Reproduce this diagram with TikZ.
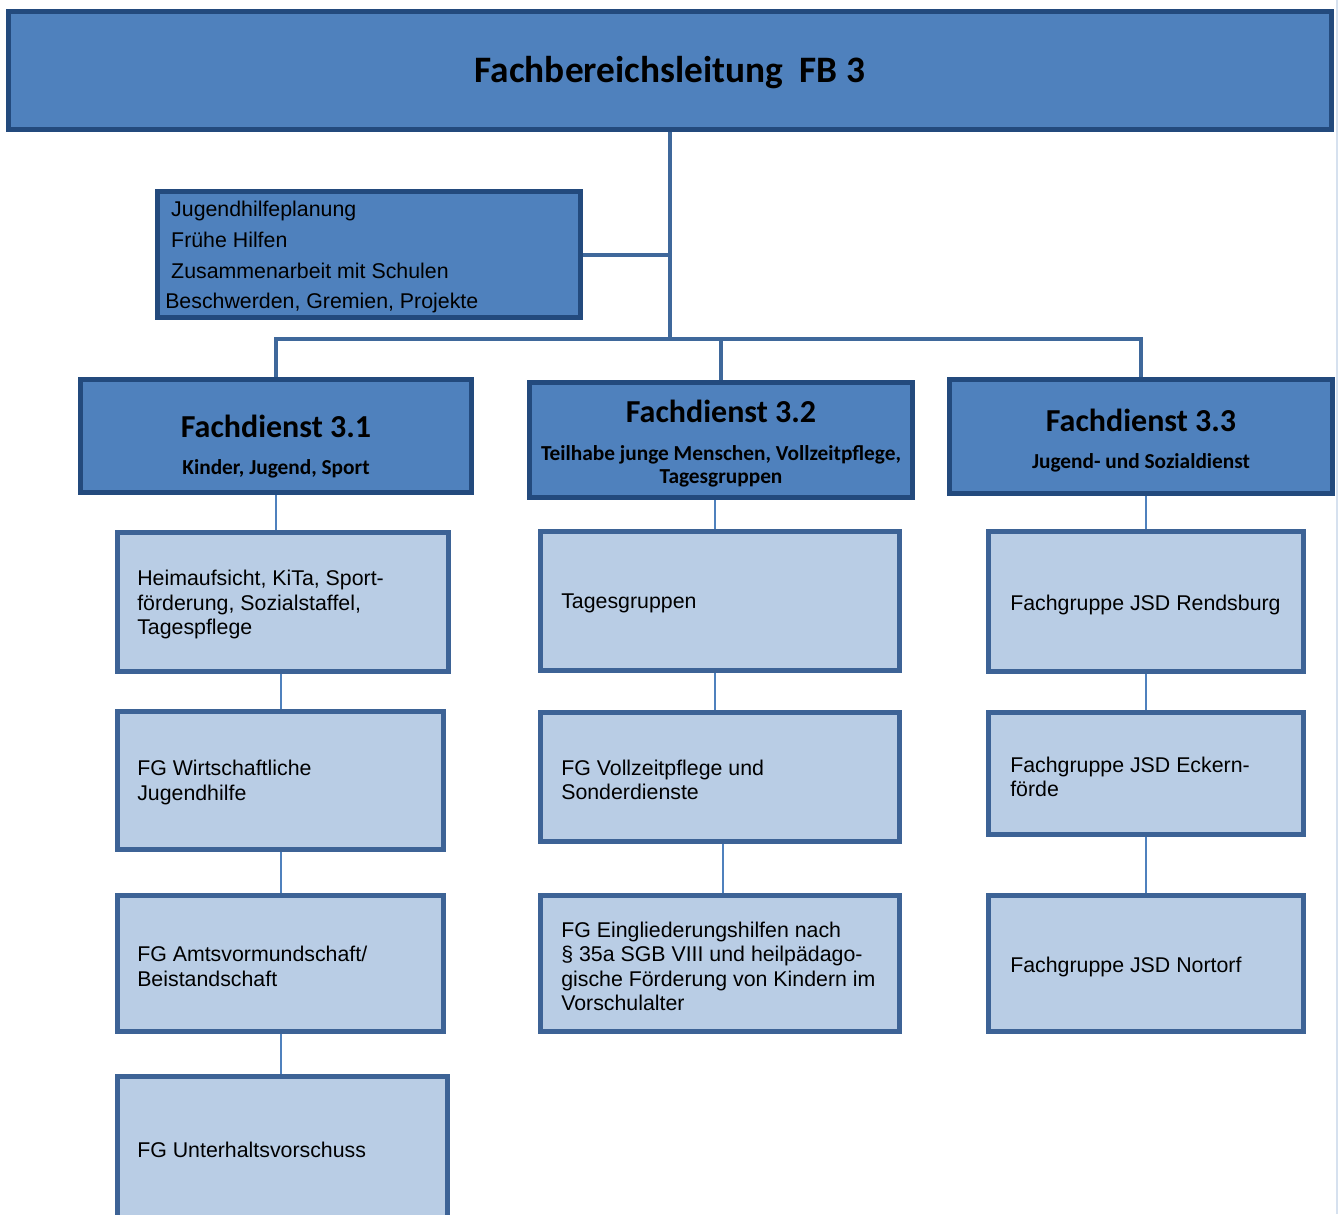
\documentclass[tikz,border=0pt]{standalone}
\usepackage{fontspec}
\setmainfont{Liberation Sans}
\newfontfamily\carl{Carlito}
\usetikzlibrary{backgrounds}
\definecolor{dkfill}{HTML}{4F81BD}
\definecolor{dkline}{HTML}{234A7D}
\definecolor{ltfill}{HTML}{B9CDE5}
\definecolor{ltline}{HTML}{3D6396}
\definecolor{trunkc}{HTML}{3F689B}
\definecolor{thinc}{HTML}{4F81BD}
\definecolor{pagec}{HTML}{D6E1EF}
\pgfdeclarelayer{bg}
\pgfsetlayers{bg,background,main}
\tikzset{
  dkbox/.style={draw=dkline, fill=dkfill, line width=3.8pt, rectangle, inner sep=0pt, outer sep=0pt},
  ltbox/.style={draw=ltline, fill=ltfill, line width=3.2pt, rectangle, inner sep=0pt, outer sep=0pt},
  trunk/.style={draw=trunkc, line width=3.6pt},
  branch/.style={draw=trunkc, line width=3pt},
  thin/.style={draw=thinc, line width=1.5pt},
  boxtext/.style={anchor=west, inner sep=0pt, yshift=-2pt, align=left, font=\fontsize{16}{18.4}\selectfont},
  fdtitle/.style={inner sep=0pt, yshift=-1.5pt, font=\carl\bfseries\fontsize{24}{28}\selectfont},
  fdsub/.style={inner sep=0pt, yshift=-1.5pt, align=center, font=\carl\bfseries\fontsize{16}{17.3}\selectfont},
}
\newcommand\placebox[6]{%
  \node[#1, minimum width={(#5-#3-3)*0.75pt}, minimum height={(#6-#4-3)*0.75pt}] (#2) at ({(#3+#5)/2},{(#4+#6)/2}) {};}
\begin{document}
\begin{tikzpicture}[x=0.75pt,y=-0.75pt]
\useasboundingbox (0,0) rectangle (1342,1214);
\begin{pgfonlayer}{bg}
\fill[white] (0,0) rectangle (1342,1214);
\draw[pagec, line width=1.5pt] (1337,0) -- (1337,1214);
\end{pgfonlayer}

% top and staff box
\placebox{dkbox}{top}{7}{10}{1333}{131}
\node[inner sep=0pt, yshift=-2.2pt, font=\carl\bfseries\fontsize{28}{32}\selectfont] (toptext) at (670,70) {Fachbereichsleitung\hspace{0.45em}FB 3};

\placebox{dkbox}{staff}{156}{190}{582}{319}
\node[anchor=west, inner sep=0pt, yshift=-1.8pt, align=left, font=\fontsize{16}{23}\selectfont] (stafftext) at (165,255)
  {\hspace{0.28em}Jugendhilfeplanung\\\hspace{0.28em}Frühe Hilfen\\\hspace{0.28em}Zusammenarbeit mit Schulen\\Beschwerden, Gremien, Projekte};

% Fachdienste
\placebox{dkbox}{fd1}{79}{378}{473}{494}
\node[fdtitle] (fd1t) at (276,424) {Fachdienst 3.1};
\node[fdsub] (fd1s) at (276,467) {Kinder, Jugend, Sport};

\placebox{dkbox}{fd2}{528}{381}{914}{499}
\node[fdtitle] (fd2t) at (721,409) {Fachdienst 3.2};
\node[fdsub] (fd2s) at (721,464) {Teilhabe junge Menschen, Vollzeitpflege,\\Tagesgruppen};

\placebox{dkbox}{fd3}{948}{378}{1334}{495}
\node[fdtitle] (fd3t) at (1141,418) {Fachdienst 3.3};
\node[fdsub] (fd3s) at (1141,461) {Jugend- und Sozialdienst};

% column 1
\placebox{ltbox}{a1}{116}{531}{450}{673}
\node[boxtext] (a1t) at (137,602) {Heimaufsicht, KiTa, Sport-\\förderung, Sozialstaffel,\\Tagespflege};
\placebox{ltbox}{a2}{116}{710}{445}{851}
\node[boxtext] (a2t) at (137,780) {FG Wirtschaftliche\\Jugendhilfe};
\placebox{ltbox}{a3}{116}{894}{445}{1033}
\node[boxtext] (a3t) at (137,963.5) {FG Amtsvormundschaft/\\Beistandschaft};
\placebox{ltbox}{a4}{116}{1075}{449}{1220}
\node[boxtext] (a4t) at (137,1147) {FG Unterhaltsvorschuss};

% column 2
\placebox{ltbox}{b1}{539}{530}{901}{672}
\node[boxtext] (b1t) at (561,601) {Tagesgruppen};
\placebox{ltbox}{b2}{539}{711}{901}{843}
\node[boxtext] (b2t) at (561,777) {FG Vollzeitpflege und\\Sonderdienste};
\placebox{ltbox}{b3}{539}{894}{901}{1033}
\node[boxtext] (b3t) at (561,963.5) {FG Eingliederungshilfen nach\\\S\ 35a SGB VIII und heilpädago-\\gische Förderung von Kindern im\\Vorschulalter};

% column 3
\placebox{ltbox}{c1}{987}{530}{1305}{673}
\node[boxtext] (c1t) at (1010,602) {Fachgruppe JSD Rendsburg};
\placebox{ltbox}{c2}{987}{711}{1305}{836}
\node[boxtext] (c2t) at (1010,774) {Fachgruppe JSD Eckern-\\förde};
\placebox{ltbox}{c3}{987}{894}{1305}{1033}
\node[boxtext] (c3t) at (1010,964) {Fachgruppe JSD Nortorf};

% connectors
\coordinate (hub) at (670,339);
\begin{pgfonlayer}{background}
\draw[trunk] (top.south) -- (hub);
\draw[branch] (staff.east) -- (staff.east -| top.south);
\draw[branch] (fd1.north) |- (hub) -| (fd3.north);
\draw[branch] (fd2.north) -- (fd2.north |- hub);
\draw[thin] (fd1.south) -- (fd1.south |- a1.north);
\draw[thin] (a1.south -| a2.north) -- (a2.north);
\draw[thin] (a2.south) -- (a3.north);
\draw[thin] (a3.south) -- (a4.north -| a3.south);
\draw[thin] ([xshift=-4pt]b1.north) -- ([xshift=-4pt]fd2.south -| b1.north);
\draw[thin] ([xshift=-4pt]b1.south) -- ([xshift=-4pt]b2.north);
\draw[thin] ([xshift=2pt]b2.south) -- ([xshift=2pt]b3.north);
\draw[thin] (c1.north) -- (c1.north |- fd3.south);
\draw[thin] (c1.south) -- (c2.north);
\draw[thin] (c2.south) -- (c3.north);
\end{pgfonlayer}
\end{tikzpicture}
\end{document}
